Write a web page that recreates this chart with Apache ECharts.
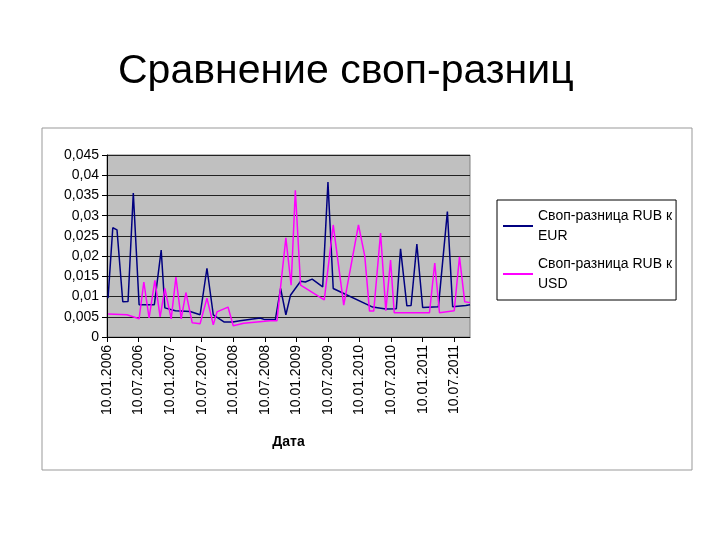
<!DOCTYPE html>
<html>
<head>
<meta charset="utf-8">
<script src="https://cdn.jsdelivr.net/npm/echarts@6/dist/echarts.min.js"></script>
<style>
body { margin: 0; background: #fff; }
#main { width: 720px; height: 540px; }
</style>
</head>
<body>
<div id="main"></div>
<script>
// Месяцы от 10.01.2006 и значения своп-разниц
let eurMonths = [0.2, 1.1, 1.9, 3, 4, 5, 6.1, 9, 10.3, 11, 13, 15.8, 17.7, 19, 20.2, 22.3, 23.9, 25.3, 29.1, 30, 32, 33, 34, 34.9, 36.8, 37.7, 39, 41, 42, 43, 50.5, 53, 55, 55.8, 57, 57.8, 58.9, 60, 63, 64.7, 65.7, 68.2, 69];
let eurValues = [0.0096, 0.027, 0.0265, 0.0087, 0.0088, 0.0356, 0.008, 0.008, 0.0215, 0.0072, 0.0065, 0.0063, 0.0055, 0.017, 0.0055, 0.0037, 0.0037, 0.004, 0.0047, 0.0043, 0.0043, 0.012, 0.0055, 0.0104, 0.0138, 0.0136, 0.0143, 0.0124, 0.0383, 0.012, 0.0074, 0.0069, 0.007, 0.0218, 0.0077, 0.0078, 0.023, 0.0073, 0.0075, 0.031, 0.0075, 0.0078, 0.008];

let usdMonths = [0.2, 3.8, 6.1, 7, 8, 9.1, 10.1, 11, 12.2, 13.1, 14.1, 15, 16.2, 17.7, 19, 20.2, 20.9, 23, 24, 26, 31, 32.3, 34, 35, 35.8, 36.8, 41.3, 43, 45, 47.8, 49, 49.9, 50.7, 52, 53, 53.9, 54.6, 57, 61.3, 62.3, 63.2, 66, 67, 68, 69];
let usdValues = [0.0057, 0.0055, 0.0045, 0.0136, 0.0047, 0.014, 0.005, 0.012, 0.0045, 0.0148, 0.0045, 0.011, 0.0035, 0.0033, 0.0096, 0.003, 0.0062, 0.0074, 0.0028, 0.0034, 0.004, 0.004, 0.0245, 0.0128, 0.0363, 0.0128, 0.0092, 0.0277, 0.0079, 0.0277, 0.02, 0.0064, 0.0064, 0.0257, 0.0065, 0.019, 0.006, 0.006, 0.006, 0.0183, 0.006, 0.0065, 0.0198, 0.0087, 0.0085];

function pairs(xs, ys) {
	var out = [];
	for (var i = 0; i < xs.length; i++) out.push([xs[i], ys[i]]);
	return out;
}

function monthLabel(m) {
	var y = 2006 + Math.floor(m / 12);
	var mm = (m % 12) + 1;
	return '10.' + (mm < 10 ? '0' + mm : mm) + '.' + y;
}

var myChart = echarts.init(document.getElementById('main'));
var font = 'Liberation Sans, Arial, sans-serif';

var option = {
	animation: false,
	title: {
		text: 'Сравнение своп-разниц',
		left: 113, top: 46,
		textStyle: { fontFamily: font, fontSize: 41, fontWeight: 'normal', color: '#000' }
	},
	graphic: [{
		type: 'rect', shape: { x: 42, y: 128, width: 650, height: 342 },
		style: { fill: 'none', stroke: '#999', lineWidth: 1 }, z: -1
	}],
	legend: {
		orient: 'vertical', left: 497, top: 200, width: 190,
		padding: [6, 4, 6, 6], itemGap: 8, itemWidth: 30, itemHeight: 2, icon: 'rect',
		borderColor: '#000', borderWidth: 1,
		textStyle: { fontFamily: font, fontSize: 14, color: '#000', lineHeight: 20 },
		data: ['Своп-разница RUB к\nEUR', 'Своп-разница RUB к\nUSD']
	},
	grid: { left: 107, right: 250, top: 155, bottom: 203, backgroundColor: '#c0c0c0', show: true, borderColor: '#808080', borderWidth: 1 },
	xAxis: {
		type: 'value', min: 0, max: 69, interval: 6,
		name: 'Дата', nameLocation: 'middle', nameGap: 98,
		nameTextStyle: { fontFamily: font, fontSize: 14, fontWeight: 'bold', color: '#000' },
		splitLine: { show: false },
		axisLine: { lineStyle: { color: '#000' } },
		axisTick: { lineStyle: { color: '#000' } },
		axisLabel: { rotate: 90, formatter: monthLabel, fontFamily: font, fontSize: 14, color: '#000', showMaxLabel: false }
	},
	yAxis: {
		type: 'value', min: 0, max: 0.045, interval: 0.005,
		splitLine: { lineStyle: { color: '#222', width: 1 } },
		axisLine: { show: true, lineStyle: { color: '#000' } },
		axisTick: { show: true, lineStyle: { color: '#000' } },
		axisLabel: {
			fontFamily: font, fontSize: 14, color: '#000',
			formatter: function (v) { return v === 0 ? '0' : String(+v.toFixed(3)).replace('.', ','); }
		}
	},
	series: [{
		name: 'Своп-разница RUB к\nEUR', type: 'line', symbol: 'none',
		data: pairs(eurMonths, eurValues),
		lineStyle: { color: '#000080', width: 1.5 }, itemStyle: { color: '#000080' }
	}, {
		name: 'Своп-разница RUB к\nUSD', type: 'line', symbol: 'none',
		data: pairs(usdMonths, usdValues),
		lineStyle: { color: '#ff00ff', width: 1.5 }, itemStyle: { color: '#ff00ff' }
	}]
};

myChart.setOption(option);
</script>
</body>
</html>
